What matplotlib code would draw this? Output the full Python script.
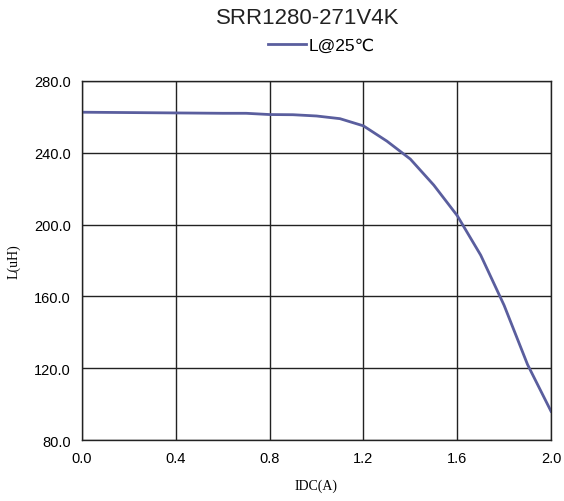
import matplotlib
matplotlib.use("Agg")
import matplotlib.pyplot as plt
from matplotlib.lines import Line2D

# data
current = [0.0, 0.2, 0.4, 0.6, 0.7, 0.8, 0.9, 1.0, 1.1, 1.2, 1.3, 1.4, 1.5, 1.6, 1.7, 1.8, 1.9, 2.0]
inductance = [262.6, 262.4, 262.2, 262.0, 262.0, 261.3, 261.2, 260.5, 259.0, 255.0,
              246.5, 236.5, 222.0, 205.0, 183.0, 155.0, 122.0, 96.0]
x_ticks = [0.0, 0.4, 0.8, 1.2, 1.6, 2.0]
y_ticks = [80.0, 120.0, 160.0, 200.0, 240.0, 280.0]

LINE_COLOR = '#5a5e9e'

plt.rcParams['font.family'] = ['Liberation Sans', 'DejaVu Sans']

fig = plt.figure(figsize=(5.64, 5.02), dpi=100)
ax = fig.add_axes([0.1454, 0.1215, 0.8316, 0.7152])

ax.plot(current, inductance, color=LINE_COLOR, lw=2)

ax.set_xlim(0, 2.0)
ax.set_ylim(80, 280)
ax.set_xticks(x_ticks)
ax.set_yticks(y_ticks)
ax.set_xticklabels([f'{v:.1f}' for v in x_ticks], fontsize=10.5)
ax.set_yticklabels([f'{v:.1f}' for v in y_ticks], fontsize=10.5)
ax.tick_params(length=0, pad=8)
ax.grid(True, color='#222222', lw=1)
for s in ax.spines.values():
    s.set_color('#222222')
    s.set_linewidth(1)

ax.set_xlabel('IDC(A)', family='Liberation Serif', fontsize=10, labelpad=10)
ax.set_ylabel('L(uH)', family='Liberation Serif', fontsize=10, labelpad=10)

fig.text(0.545, 0.963, 'SRR1280-271V4K', ha='center', va='center', fontsize=16,
         color='#222222')
handle = Line2D([], [], color=LINE_COLOR, lw=2)
fig.legend([handle], ['L@25\u2103'], loc='center', bbox_to_anchor=(0.57, 0.908),
           frameon=False, fontsize=12.5, handlelength=2.2, handletextpad=0.15)

fig.savefig('out.png', dpi=100)
